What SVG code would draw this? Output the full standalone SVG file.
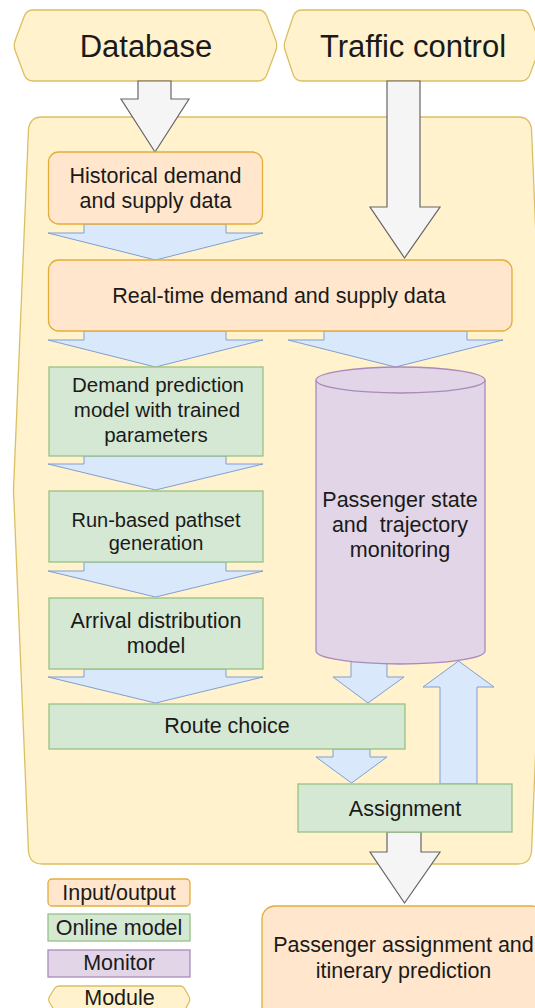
<svg xmlns="http://www.w3.org/2000/svg" width="535" height="1008" viewBox="0 0 535 1008">
  <style>
    text { font-family: "Liberation Sans", Arial, Helvetica, sans-serif; font-size: 21.5px; fill: #1a1a1a; text-anchor: middle; }
    .big { font-size: 31px; }
    .module { fill: #fff2cc; stroke: #dcbf62; stroke-width: 1.3; }
    .io { fill: #ffe6cc; stroke: #e3ad3c; stroke-width: 1.3; }
    .model { fill: #d5e8d4; stroke: #97c283; stroke-width: 1.3; }
    .monitor { fill: #e1d5e7; stroke: #a98bbb; stroke-width: 1.3; }
    .flow { fill: #dae8fc; stroke: #7f9fd0; stroke-width: 1; }
    .ext { fill: #f5f5f5; stroke: #666666; stroke-width: 1.2; }
  </style>

  <!-- framework container -->
  <g id="framework">
    <path class="module" d="M 42 117 L 518 117 Q 530 117 531.5 129 L 546 478 Q 547 490 546 502 L 531.5 852 Q 530 864 518 864 L 42 864 Q 30 864 28.5 852 L 14 502 Q 13 490 14 478 L 28.5 129 Q 30 117 42 117 Z"/>
  </g>

  <!-- source modules -->
  <g id="database">
    <path class="module" d="M 33 10 L 258 10 Q 264 10 266.5 15.5 L 275.5 39.5 Q 278 45.5 275.5 51.5 L 266.5 75.5 Q 264 81 258 81 L 33 81 Q 27 81 24.5 75.5 L 15.5 51.5 Q 13 45.5 15.5 39.5 L 24.5 15.5 Q 27 10 33 10 Z"/>
    <text class="big" x="146" y="57">Database</text>
  </g>
  <g id="traffic-control">
    <path class="module" d="M 302 10 L 521 10 Q 527 10 529.5 15.5 L 538.5 39.5 Q 541 45.5 538.5 51.5 L 529.5 75.5 Q 527 81 521 81 L 302 81 Q 296 81 293.5 75.5 L 285.5 51.5 Q 283 45.5 285.5 39.5 L 293.5 15.5 Q 296 10 302 10 Z"/>
    <text class="big" x="413" y="57">Traffic control</text>
  </g>

  <!-- connectors -->
  <g id="connectors">
    <polygon class="ext" points="138,81 171,81 171,99 189,99 155,152 121,99 138,99"/>
    <polygon class="ext" points="387,81 420,81 420,207 440,207 404.5,258 370,207 387,207"/>
    <polygon class="flow" points="84,224 226,224 226,233 263,233 155.5,260 48,233 84,233"/>
    <polygon class="flow" points="84,331 226,331 226,340 263,340 155.5,367 48,340 84,340"/>
    <polygon class="flow" points="324,331 467,331 467,340 503,340 395.5,367 288,340 324,340"/>
    <polygon class="flow" points="84,456 226,456 226,464 263,464 155.5,490 48,464 84,464"/>
    <polygon class="flow" points="84,562 226,562 226,571 263,571 155.5,597 48,571 84,571"/>
    <polygon class="flow" points="84,669 226,669 226,677 263,677 155.5,703 48,677 84,677"/>
    <polygon class="flow" points="351,655 387,655 387,677 404,677 368,703 333,677 351,677"/>
    <polygon class="flow" points="333,749 370,749 370,757 387,757 351.5,783 316,757 333,757"/>
    <polygon class="flow" points="440,784 477,784 477,687 494,687 458.5,661 423,687 440,687"/>
    <polygon class="ext" points="387,832 421,832 421,852 440,852 404.5,903 370,852 387,852"/>
  </g>

  <!-- data and models -->
  <g id="historical-data">
    <rect class="io" x="48.5" y="152" width="214" height="72" rx="10"/>
    <text x="155.5" y="183">Historical demand</text>
    <text x="155.5" y="208">and supply data</text>
  </g>
  <g id="realtime-data">
    <rect class="io" x="48.5" y="260" width="463.5" height="71" rx="10"/>
    <text x="279" y="303">Real-time demand and supply data</text>
  </g>
  <g id="demand-prediction">
    <rect class="model" x="49" y="367" width="214" height="89"/>
    <text x="158" y="392" style="font-size:20.5px">Demand prediction</text>
    <text x="157" y="417" style="font-size:20.5px">model with trained</text>
    <text x="156" y="442" style="font-size:20.5px">parameters</text>
  </g>
  <g id="pathset-generation">
    <rect class="model" x="49" y="491" width="214" height="71"/>
    <text x="156" y="527" style="font-size:20px">Run-based pathset</text>
    <text x="156" y="550" style="font-size:20px">generation</text>
  </g>
  <g id="arrival-distribution">
    <rect class="model" x="49" y="598" width="214" height="71"/>
    <text x="156" y="628">Arrival distribution</text>
    <text x="156" y="653">model</text>
  </g>
  <g id="route-choice">
    <rect class="model" x="49" y="704" width="356" height="45"/>
    <text x="227" y="733">Route choice</text>
  </g>
  <g id="assignment">
    <rect class="model" x="298" y="784" width="214" height="48"/>
    <text x="405" y="815.5">Assignment</text>
  </g>
  <g id="monitoring">
    <path class="monitor" d="M 316 380 A 84.5 13 0 0 1 485 380 L 485 651 A 84.5 13 0 0 1 316 651 Z"/>
    <path class="monitor" fill="none" d="M 316 380 A 84.5 13 0 0 0 485 380"/>
    <text x="400" y="507">Passenger state</text>
    <text x="400" y="532" xml:space="preserve" style="white-space:pre">and  trajectory</text>
    <text x="400" y="557">monitoring</text>
  </g>
  <g id="prediction-output">
    <rect class="io" x="262" y="906" width="283" height="130" rx="13"/>
    <text x="403.5" y="952">Passenger assignment and</text>
    <text x="403.5" y="978">itinerary prediction</text>
  </g>

  <!-- legend -->
  <g id="legend-io">
    <rect class="io" x="48" y="879" width="142" height="27" rx="4"/>
    <text x="119" y="900">Input/output</text>
  </g>
  <g id="legend-model">
    <rect class="model" x="48" y="914" width="142" height="27"/>
    <text x="119" y="935">Online model</text>
  </g>
  <g id="legend-monitor">
    <rect class="monitor" x="48" y="950" width="142" height="27"/>
    <text x="119" y="970">Monitor</text>
  </g>
  <g id="legend-module">
    <path class="module" d="M 59 986 L 180 986 Q 183 986 184.5 988.5 L 189 996.5 Q 190.5 999.5 189 1002.5 L 184.5 1010.5 Q 183 1013 180 1013 L 59 1013 Q 56 1013 54.5 1010.5 L 49.5 1002.5 Q 48 999.5 49.5 996.5 L 54.5 988.5 Q 56 986 59 986 Z"/>
    <text x="119.5" y="1005">Module</text>
  </g>
</svg>
